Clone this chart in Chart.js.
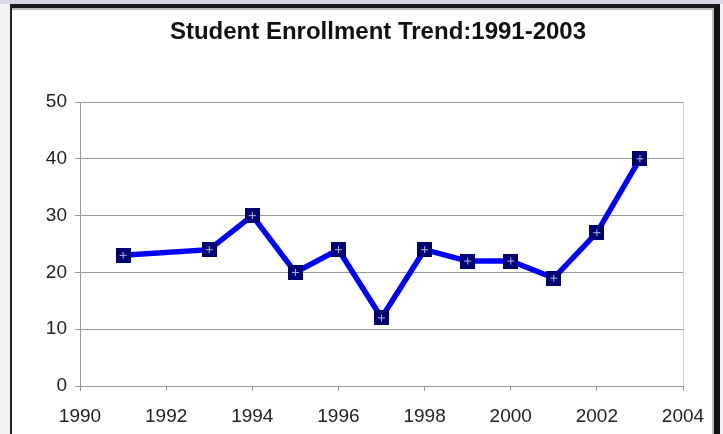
<!DOCTYPE html>
<html>
<head>
    <title>Student Enrollment Trend</title>
    <script src="https://cdn.jsdelivr.net/npm/chart.js"></script>
    <style>
        body { margin: 0; background: #f1f1f6; overflow: hidden; }
        #band { position: absolute; left: 0; top: 0; width: 723px; height: 4px; background: #d7d7ea; }
        #frame {
            position: absolute; left: 10px; top: 4px; width: 702px; height: 440px;
            background: #fff; border-left: 2px solid #222; border-top: 4px solid #1a1a1a;
            border-right: 6px solid #111; box-shadow: inset -2px 2px 0 #bbb;
        }
        #myChart { position: absolute; left: 0; top: 0; }
    </style>
</head>
<body>
    <div id="band"></div>
    <div id="frame"></div>
    <canvas id="myChart" width="723" height="434"></canvas>

    <script>
        // enrollment per year
        const years = [1991, 1993, 1994, 1995, 1996, 1997, 1998, 1999, 2000, 2001, 2002, 2003];
        const enrollment = [23, 24, 30, 20, 24, 12, 24, 22, 22, 19, 27, 40];
        const xTicks = [1990, 1992, 1994, 1996, 1998, 2000, 2002, 2004];
        const yTicks = [0, 10, 20, 30, 40, 50];

        // square marker with a small plus in the middle
        const marker = document.createElement('canvas');
        marker.width = 15;
        marker.height = 15;
        const m = marker.getContext('2d');
        m.fillStyle = '#000070';
        m.fillRect(0, 0, 15, 15);
        m.strokeStyle = '#b4b8ee';
        m.lineWidth = 1;
        m.beginPath();
        m.moveTo(4, 7.5); m.lineTo(11, 7.5);
        m.moveTo(7.5, 4); m.lineTo(7.5, 11);
        m.stroke();

        const font = { family: 'Arial, "Liberation Sans", sans-serif', size: 19 };

        const ctx = document.getElementById('myChart').getContext('2d');
        const myChart = new Chart(ctx, {
            type: 'line',
            data: {
                datasets: [{
                    label: 'Enrollment',
                    data: years.map((y, i) => ({ x: y, y: enrollment[i] })),
                    borderColor: '#0000ff',
                    borderWidth: 5.5,
                    pointStyle: marker,
                    pointRadius: 7.5,
                    tension: 0
                }]
            },
            options: {
                responsive: false,
                animation: false,
                layout: { padding: { left: 33, right: 0, top: 0, bottom: 0 } },
                plugins: {
                    legend: { display: false },
                    tooltip: { enabled: false },
                    title: {
                        display: true,
                        text: 'Student Enrollment Trend:1991-2003',
                        color: '#111',
                        font: { family: font.family, size: 24, weight: 'bold' },
                        padding: { top: 18, bottom: 55.2 }
                    }
                },
                scales: {
                    x: {
                        type: 'linear',
                        min: xTicks[0],
                        max: xTicks[xTicks.length - 1],
                        afterBuildTicks: s => { s.ticks = xTicks.map(v => ({ value: v })); },
                        afterFit: s => { s.height = 48; },
                        ticks: {
                            color: '#222',
                            font: font,
                            padding: 14,
                            maxRotation: 0,
                            callback: v => String(v)
                        },
                        grid: {
                            color: c => (c.tick && c.tick.value === 2004) ? '#cfcfcf' : 'rgba(0,0,0,0)',
                            tickColor: '#999',
                            tickLength: 5
                        },
                        border: { color: '#999' }
                    },
                    y: {
                        min: 0,
                        max: 50,
                        afterBuildTicks: s => { s.ticks = yTicks.map(v => ({ value: v })); },
                        afterFit: s => { s.width = 47; },
                        ticks: { color: '#222', font: font, padding: 8 },
                        grid: { color: '#999', tickColor: '#999', tickLength: 5 },
                        border: { color: '#999' }
                    },
                    // empty right-hand strip so the plot ends short of the frame
                    yRight: {
                        position: 'right',
                        afterFit: s => { s.width = 40; },
                        ticks: { display: false },
                        grid: { display: false },
                        border: { display: false }
                    }
                }
            }
        });
    </script>
</body>
</html>
